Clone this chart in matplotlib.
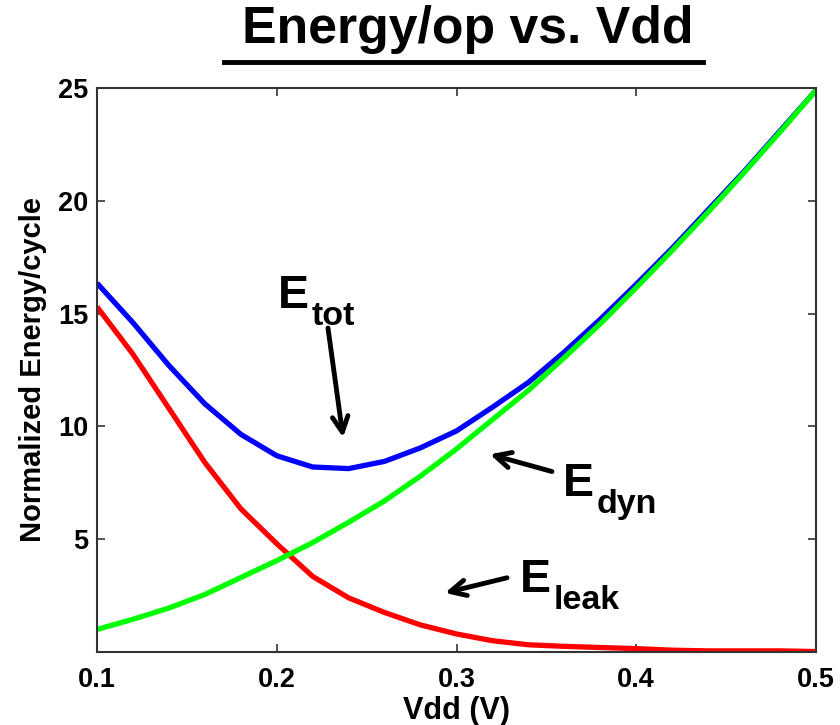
import matplotlib
matplotlib.use("Agg")
import matplotlib.pyplot as plt

plt.rcParams['font.family'] = ['Liberation Sans', 'DejaVu Sans']
plt.rcParams['font.weight'] = 'bold'

vdd = [0.10, 0.12, 0.14, 0.16, 0.18, 0.20, 0.22, 0.24, 0.26, 0.28, 0.30,
       0.32, 0.34, 0.36, 0.38, 0.40, 0.42, 0.44, 0.46, 0.48, 0.50]
e_tot = [16.35, 14.6, 12.7, 11.0, 9.65, 8.7, 8.2, 8.13, 8.45, 9.05, 9.8,
         10.85, 11.95, 13.3, 14.75, 16.3, 17.9, 19.6, 21.3, 23.1, 24.9]
e_leak = [15.3, 13.2, 10.8, 8.4, 6.35, 4.8, 3.35, 2.4, 1.75, 1.2, 0.8,
          0.5, 0.32, 0.25, 0.2, 0.15, 0.08, 0.05, 0.05, 0.05, 0.02]
e_dyn = [1.0, 1.45, 1.95, 2.55, 3.3, 4.05, 4.85, 5.75, 6.7, 7.8, 9.0,
         10.3, 11.6, 13.05, 14.55, 16.15, 17.8, 19.5, 21.25, 23.05, 24.9]

xticks = [0.1, 0.2, 0.3, 0.4, 0.5]
yticks = [5, 10, 15, 20, 25]

W, H = 840, 725
fig = plt.figure(figsize=(W / 100, H / 100), dpi=100)
ax = fig.add_axes([97 / W, 1 - 652 / H, (816 - 97) / W, (652 - 88) / H])

lw = 3.8
ax.plot(vdd, e_tot, color=(0, 0, 1), lw=lw, solid_capstyle='butt')
ax.plot(vdd, e_leak, color=(1, 0, 0), lw=lw, solid_capstyle='butt')
ax.plot(vdd, e_dyn, color=(0, 1, 0), lw=lw, solid_capstyle='butt')

ax.set_xlim(0.1, 0.5)
ax.set_ylim(0, 25)
ax.set_xticks(xticks)
ax.set_xticklabels([f"{t:g}" for t in xticks])
ax.set_yticks(yticks)
ax.set_yticklabels([str(t) for t in yticks])
ax.tick_params(direction='in', length=6, width=1.2, top=True, right=True,
               labelsize=19.5, color='#333333')
ax.tick_params(axis='x', pad=11)
ax.tick_params(axis='y', pad=6)
for s in ax.spines.values():
    s.set_linewidth(1.5)
    s.set_color('#333333')

ax.set_xlabel('Vdd (V)', fontsize=22, fontweight='bold', labelpad=2)
ax.set_ylabel('Normalized Energy/cycle', fontsize=21, fontweight='bold', labelpad=8)

# annotations: big "E" plus lowered subscript
big, sub = 33.5, 24.5
labels = [('tot', 0.2007, 15.24), ('dyn', 0.3592, 6.93), ('leak', 0.3353, 2.67)]
for s, x, y in labels:
    ax.text(x, y, 'E', fontsize=big, fontweight='bold', ha='left', va='baseline')
    ax.annotate(s, xy=(x, y), xytext=(34, -17), textcoords='offset pixels',
                fontsize=sub, fontweight='bold', ha='left', va='baseline')

ap = dict(arrowstyle='->', lw=3.5, color='black', mutation_scale=28,
          shrinkA=0, shrinkB=0)
ax.annotate('', xy=(0.2369, 9.51), xytext=(0.2285, 14.36), arrowprops=ap)
ax.annotate('', xy=(0.3186, 8.76), xytext=(0.3531, 8.0), arrowprops=ap)
ax.annotate('', xy=(0.2936, 2.62), xytext=(0.3281, 3.29), arrowprops=ap)

# title with underline
fig.text(468 / W, 1 - 43 / H, 'Energy/op vs. Vdd', fontsize=37.3, fontweight='bold',
         ha='center', va='baseline')
fig.add_artist(plt.Line2D([224 / W, 703 / W], [1 - 62 / H, 1 - 62 / H],
                          color='black', lw=3.5, transform=fig.transFigure))

fig.savefig('out.png', dpi=100)
